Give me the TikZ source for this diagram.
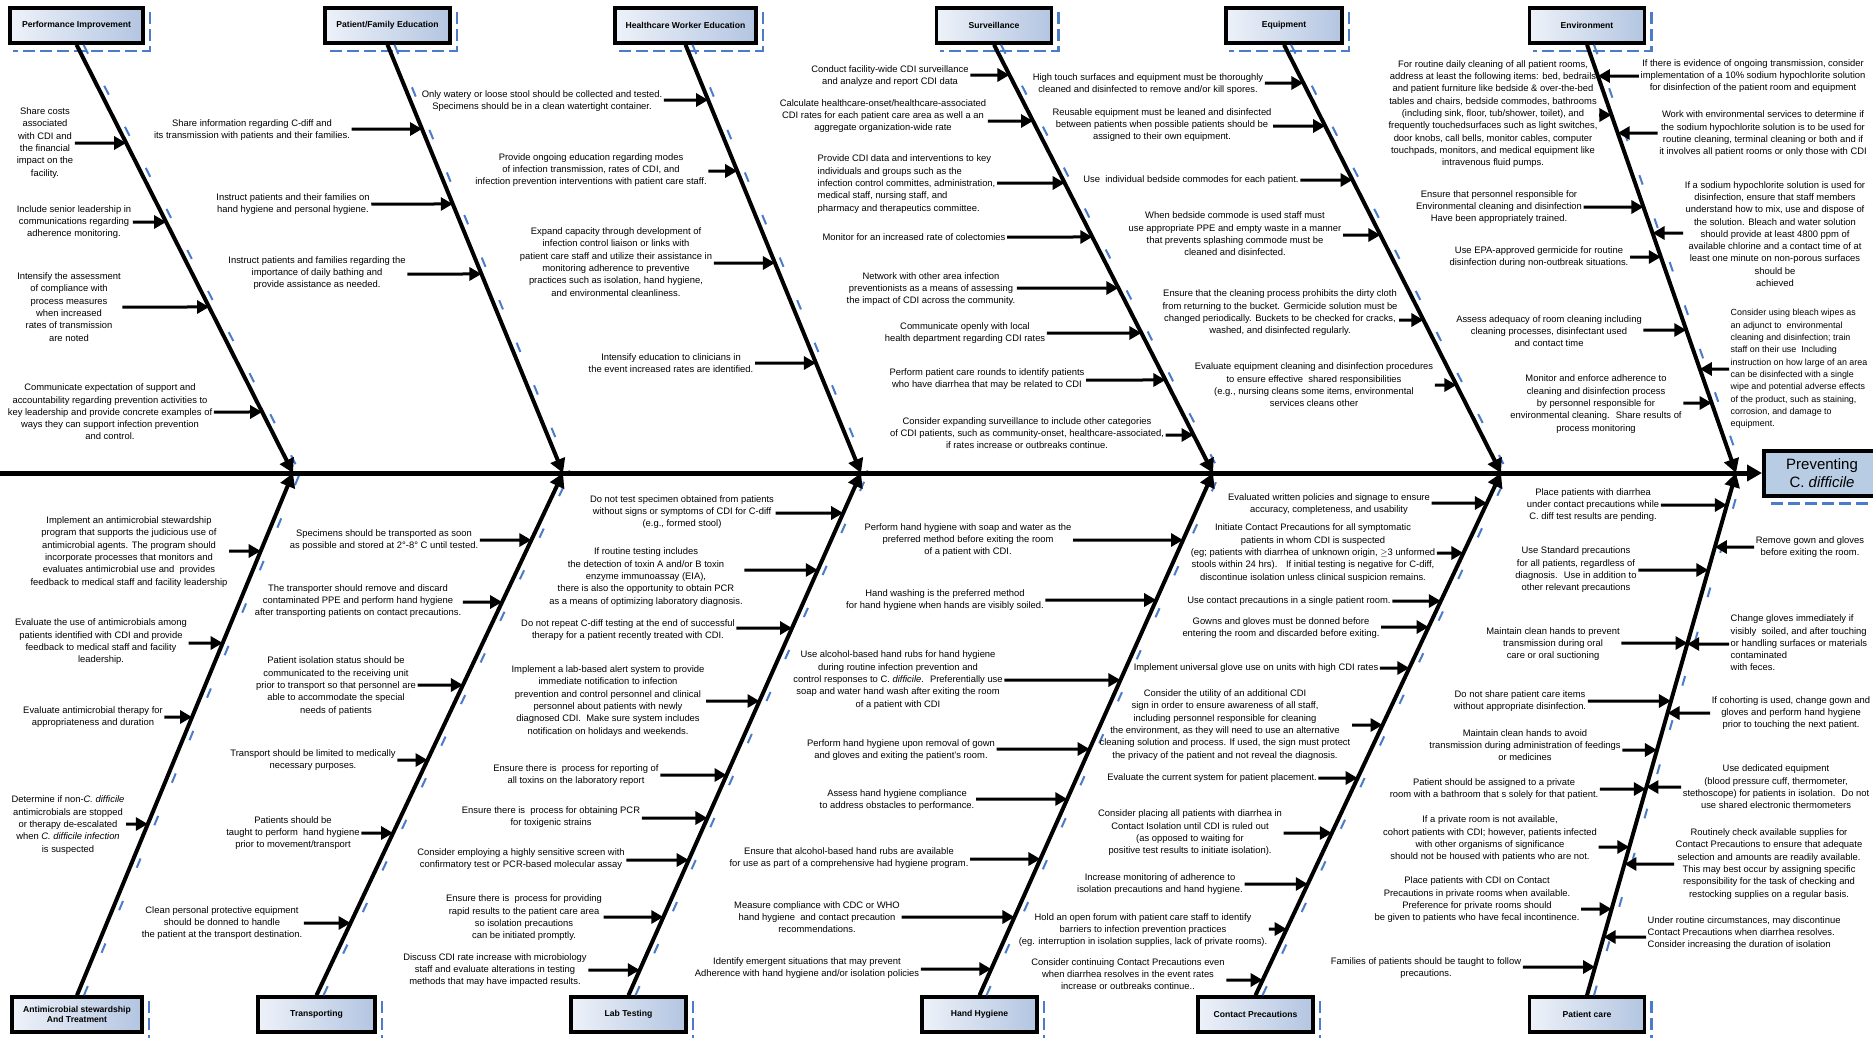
\documentclass[tikz,border=0pt]{standalone}
\usepackage{fontspec}
\setmainfont{Liberation Sans}
\usetikzlibrary{arrows.meta}
\usetikzlibrary{intersections}

\definecolor{boxlight}{HTML}{EEF2F9}
\definecolor{boxdark}{HTML}{B3C5E1}
\definecolor{headblue}{HTML}{B8CCE4}
\definecolor{shadeblue}{HTML}{4A7CCB}

\tikzset{
  txt/.style={font=\fontsize{9.4}{12.3}\selectfont, align=center, inner sep=1.5pt},
  flushtxt/.style={txt, align=left, anchor=west},
  cause/.style={line width=3pt, -{Triangle[length=12pt, width=13pt]}},
  bone/.style={line width=4pt, -{Triangle[length=14pt, width=15pt]}},
  catbox/.style={draw, line width=3.5pt, left color=boxlight, right color=boxdark,
    minimum height=35pt, inner sep=1pt, align=center,
    font=\bfseries\fontsize{8.6}{10}\selectfont},
  boxshadow/.style={shadeblue, line width=2.5pt, dash pattern=on 12pt off 5pt},
  boneshade/.style={shadeblue, line width=2pt, dash pattern=on 10pt off 36pt},
}

\begin{document}
\begin{tikzpicture}[x=1pt, y=-1pt]
\useasboundingbox (0,0) rectangle (1873,1037);
\clip (0,0) rectangle (1873,1037);

% head and spine
\node[draw, line width=4pt, fill=headblue, anchor=west, minimum width=116pt, minimum height=45pt,
  align=center, inner sep=1pt, font=\fontsize{15}{18}\selectfont] (goal) at (1762,473)
  {Preventing\\C. \textit{difficile}};
\coordinate (tail) at (0,473);

\coordinate (j1) at (293,473);
\coordinate (j2) at (563,473);
\coordinate (j3) at (861,473);
\coordinate (j4) at (1213,473);
\coordinate (j5) at (1501,473);
\coordinate (j6) at (1736,473);

% categories
\node[catbox, minimum width=133pt] (pi) at (76.5,25.5) {Performance Improvement};
\node[catbox, minimum width=125pt] (pfe) at (387.5,25.5) {Patient/Family Education};
\node[catbox, minimum width=141pt] (hwe) at (685.5,25.5) {Healthcare Worker Education};
\node[catbox, minimum width=115pt] (sv) at (994,25.5) {Surveillance};
\node[catbox, minimum width=116pt] (eq) at (1284,25.5) {Equipment};
\node[catbox, minimum width=115pt] (en) at (1587,25.5) {Environment};
\node[catbox, minimum width=130pt] (am) at (77,1014.5) {Antimicrobial stewardship\\And Treatment};
\node[catbox, minimum width=117pt] (tr) at (316.5,1014.5) {Transporting};
\node[catbox, minimum width=115pt] (lt) at (628.5,1014.5) {Lab Testing};
\node[catbox, minimum width=115pt] (hh) at (979.5,1014.5) {Hand Hygiene};
\node[catbox, minimum width=115pt] (cp) at (1255.5,1014.5) {Contact  Precautions};
\node[catbox, minimum width=115pt] (pc) at (1587,1014.5) {Patient care};

\foreach \b in {pi,pfe,hwe,sv,eq,en,am,tr,lt,hh,cp,pc,goal}
  \draw[boxshadow] ([shift={(5,6)}]\b.north east) -- ([shift={(5,6)}]\b.south east)
    -- ([shift={(5,6)}]\b.south west);

% bones
\foreach \b/\j in {pi/j1,pfe/j2,hwe/j3,sv/j4,eq/j5,en/j6}
  \draw[boneshade] ([xshift=7pt]\b.south) -- ([xshift=7pt]\j);
\foreach \b/\j in {am/j1,tr/j2,lt/j3,hh/j4,cp/j5,pc/j6}
  \draw[boneshade] ([xshift=7pt]\b.north) -- ([xshift=7pt]\j);

\draw[line width=5pt, -{Triangle[length=15pt, width=16pt]}] (tail) -- (goal.west);

\draw[bone, name path=pibone] (pi.south) -- (j1);
\draw[bone, name path=pfebone] (pfe.south) -- (j2);
\draw[bone, name path=hwebone] (hwe.south) -- (j3);
\draw[bone, name path=svbone] (sv.south) -- (j4);
\draw[bone, name path=eqbone] (eq.south) -- (j5);
\draw[bone, name path=enbone] (en.south) -- (j6);
\draw[bone, name path=ambone] (am.north) -- (j1);
\draw[bone, name path=trbone] (tr.north) -- (j2);
\draw[bone, name path=ltbone] (lt.north) -- (j3);
\draw[bone, name path=hhbone] (hh.north) -- (j4);
\draw[bone, name path=cpbone] (cp.north) -- (j5);
\draw[bone, name path=pcbone] (pc.north) -- (j6);

% Performance Improvement
\foreach \x/\y/\a/\t [count=\i] in {
  45/143/143/{Share costs\\associated\\with CDI and\\the financial\\impact on the\\facility.},
  74/222/222/{Include senior leadership in\\communications regarding\\adherence monitoring.},
  69/307/307/{Intensify the assessment\\of compliance with\\process measures\\when increased\\rates of transmission\\are noted},
  110/412/412/{Communicate expectation of support and\\accountability regarding prevention activities to\\key leadership and provide concrete examples of\\ways they can support infection prevention\\and control.}}{
  \node[txt] (pi\i) at (\x,\y) {\t};
  \path[name path=ray] (0,\a) -- (1873,\a);
  \draw[cause, name intersections={of=pibone and ray}] (pi\i.east |- 0,\a) -- (intersection-1);
}

% Patient/Family Education
\foreach \x/\y/\a/\t [count=\i] in {
  252/130/129/{Share information regarding C-diff and\\its transmission with patients and their families.},
  293/204/204/{Instruct patients and their families on\\hand hygiene and personal hygiene.},
  317/273/274/{Instruct patients and families regarding the\\importance of daily bathing and\\provide assistance as needed.}}{
  \node[txt] (pfe\i) at (\x,\y) {\t};
  \path[name path=ray] (0,\a) -- (1873,\a);
  \draw[cause, name intersections={of=pfebone and ray}] (pfe\i.east |- 0,\a) -- (intersection-1);
}

% Healthcare Worker Education
\foreach \x/\y/\a/\t [count=\i] in {
  542/101/100/{Only watery or loose stool should be collected and tested.\\Specimens should be in a clean watertight container.},
  591/170/171/{Provide ongoing education regarding modes\\of infection transmission, rates of CDI, and\\infection prevention interventions with patient care staff.},
  616/262/263/{Expand capacity through development of\\infection control liaison or links with\\patient care staff and utilize their assistance in\\monitoring adherence to preventive\\practices such as isolation, hand hygiene,\\and environmental cleanliness.},
  671/363/363/{Intensify education to clinicians in\\the event increased rates are identified.}}{
  \node[txt] (hwe\i) at (\x,\y) {\t};
  \path[name path=ray] (0,\a) -- (1873,\a);
  \draw[cause, name intersections={of=hwebone and ray}] (hwe\i.east |- 0,\a) -- (intersection-1);
}

% Surveillance
\node[flushtxt] (sv0) at (816,184) {Provide CDI data and interventions to key\\individuals and groups such as the\\infection control committes, administration,\\medical staff, nursing staff, and\\pharmacy and therapeutics committee.};
\path[name path=ray] (0,183) -- (1873,183);
\draw[cause, name intersections={of=svbone and ray}] (sv0.east |- 0,183) -- (intersection-1);
\foreach \x/\y/\a/\t [count=\i] in {
  890/76/75/{Conduct facility-wide CDI surveillance\\and analyze and report CDI data},
  883/116/121/{Calculate healthcare-onset/healthcare-associated\\CDI rates for each patient care area as well a an\\aggregate organization-wide rate},
  914/237/237/{Monitor for an increased rate of colectomies},
  931/289/288/{Network with other area infection\\preventionists as a means of assessing\\the impact of CDI across the community.},
  965/333/333/{Communicate openly with local\\health department regarding CDI rates},
  987/379/380/{Perform patient care rounds to identify patients\\who have diarrhea that may be related to CDI},
  1027/433/435/{Consider expanding surveillance to include other categories\\of CDI patients, such as community-onset, healthcare-associated,\\if rates increase or outbreaks continue.}}{
  \node[txt] (sv\i) at (\x,\y) {\t};
  \path[name path=ray] (0,\a) -- (1873,\a);
  \draw[cause, name intersections={of=svbone and ray}] (sv\i.east |- 0,\a) -- (intersection-1);
}

% Equipment
\foreach \x/\y/\a/\t [count=\i] in {
  1148/84/83/{High touch surfaces and equipment must be thoroughly\\cleaned and disinfected to remove and/or kill spores.},
  1162/125/126/{Reusable equipment must be leaned and disinfected\\between patients when possible patients should be\\assigned to their own equipment.},
  1191/180/180/{Use \ individual bedside commodes for each patient.},
  1235/234/235/{When bedside commode is used staff must\\use appropriate PPE and empty waste in a manner\\that prevents splashing commode must be\\cleaned and disinfected.},
  1280/313/320/{Ensure that the cleaning process prohibits the dirty cloth\\from returning to the bucket. Germicide solution must be\\changed periodically. Buckets to be checked for cracks,\\washed, and disinfected regularly.},
  1314/385/385/{Evaluate equipment cleaning and disinfection procedures\\to ensure effective \ shared responsibilities\\(e.g., nursing cleans some items, environmental\\services cleans other}}{
  \node[txt] (eq\i) at (\x,\y) {\t};
  \path[name path=ray] (0,\a) -- (1873,\a);
  \draw[cause, name intersections={of=eqbone and ray}] (eq\i.east |- 0,\a) -- (intersection-1);
}

% Environment
\foreach \x/\y/\a/\t [count=\i] in {
  1493/114/115/{For routine daily cleaning of all patient rooms,\\address at least the following items: bed, bedrails\\and patient furniture like bedside \& over-the-bed\\tables and chairs, bedside commodes, bathrooms\\(including sink, floor, tub/shower, toilet), and\\frequently touchedsurfaces such as light switches,\\door knobs, call bells, monitor cables, computer\\touchpads, monitors, and medical equipment like\\intravenous fluid pumps.},
  1499/207/207/{Ensure that personnel responsible for\\Environmental cleaning and disinfection\\Have been appropriately trained.},
  1539/257/257/{Use EPA-approved germicide for routine\\disinfection during non-outbreak situations.},
  1549/331/330/{Assess adequacy of room cleaning including\\cleaning processes, disinfectant used\\and contact time},
  1596/404/403/{Monitor and enforce adherence to\\cleaning and disinfection process\\by personnel responsible for\\environmental cleaning. \ Share results of\\process monitoring}}{
  \node[txt] (en\i) at (\x,\y) {\t};
  \path[name path=ray] (0,\a) -- (1873,\a);
  \draw[cause, name intersections={of=enbone and ray}] (en\i.east |- 0,\a) -- (intersection-1);
}
\foreach \x/\y/\a/\t [count=\i] in {
  1753/76/76/{If there is evidence of ongoing transmission, consider\\implementation of a 10\% sodium hypochlorite solution\\for disinfection of the patient room and equipment},
  1763/134/133/{Work with environmental services to determine if\\the sodium hypochlorite solution is to be used for\\routine cleaning, terminal cleaning or both and if\\it involves all patient rooms or only those with CDI},
  1775/234/233/{If a sodium hypochlorite solution is used for\\disinfection, ensure that staff members\\understand how to mix, use and dispose of\\the solution. Bleach and water solution\\should provide at least 4800 ppm of\\available chlorine and a contact time of at\\least one minute on non-porous surfaces\\should be\\achieved}}{
  \node[txt] (enr\i) at (\x,\y) {\t};
  \path[name path=ray] (0,\a) -- (1873,\a);
  \draw[cause, name intersections={of=enbone and ray}] (enr\i.west |- 0,\a) -- (intersection-1);
}
\node[flushtxt, font=\fontsize{8.9}{12.3}\selectfont] (enr4) at (1729,369) {Consider using bleach wipes as\\an adjunct to \ environmental\\cleaning and disinfection; train\\staff on their use \ Including\\instruction on how large of an area\\can be disinfected with a single\\wipe and potential adverse effects\\of the product, such as staining,\\corrosion, and damage to\\equipment.};
\path[name path=ray] (0,369) -- (1873,369);
\draw[cause, name intersections={of=enbone and ray}] (enr4.west |- 0,369) -- (intersection-1);

% Antimicrobial stewardship
\foreach \x/\y/\a/\t [count=\i] in {
  129/552/551/{Implement an antimicrobial stewardship\\program that supports the judicious use of\\antimicrobial agents. The program should\\incorporate processes that monitors and\\evaluates antimicrobial use and \ provides\\feedback to medical staff and facility leadership},
  101/642/643/{Evaluate the use of antimicrobials among\\patients identified with CDI and provide\\feedback to medical staff and facility\\leadership.},
  93/717/717/{Evaluate antimicrobial therapy for\\appropriateness and duration},
  68/825/824/{Determine if non-\textit{C. difficile}\\antimicrobials are stopped\\or therapy de-escalated\\when \textit{C. difficile infection}\\is suspected}}{
  \node[txt] (am\i) at (\x,\y) {\t};
  \path[name path=ray] (0,\a) -- (1873,\a);
  \draw[cause, name intersections={of=ambone and ray}] (am\i.east |- 0,\a) -- (intersection-1);
}

% Transporting
\foreach \x/\y/\a/\t [count=\i] in {
  384/540/540/{Specimens should be transported as soon\\as possible and stored at 2°-8° C until tested.},
  358/601/602/{The transporter should remove and discard\\contaminated PPE and perform hand hygiene\\after transporting patients on contact precautions.},
  336/686/685/{Patient isolation status should be\\communicated to the receiving unit\\prior to transport so that personnel are\\able to accommodate the special\\needs of patients},
  313/760/760/{Transport should be limited to medically\\necessary purposes.},
  293/833/833/{Patients should be\\taught to perform \ hand hygiene\\prior to movement/transport},
  222/923/923/{Clean personal protective equipment\\should be donned to handle\\the patient at the transport destination.}}{
  \node[txt] (tr\i) at (\x,\y) {\t};
  \path[name path=ray] (0,\a) -- (1873,\a);
  \draw[cause, name intersections={of=trbone and ray}] (tr\i.east |- 0,\a) -- (intersection-1);
}

% Lab Testing
\foreach \x/\y/\a/\t [count=\i] in {
  682/512/513/{Do not test specimen obtained from patients\\without signs or symptoms of CDI for C-diff\\(e.g., formed stool)},
  646/577/570/{If routine testing includes\\the detection of toxin A and/or B toxin\\enzyme immunoassay (EIA),\\there is also the opportunity to obtain PCR\\as a means of optimizing laboratory diagnosis.},
  628/630/628/{Do not repeat C-diff testing at the end of successful\\therapy for a patient recently treated with CDI.},
  608/701/701/{Implement a lab-based alert system to provide\\immediate notification to infection\\prevention and control personnel and clinical\\personnel about patients with newly\\diagnosed CDI. \ Make sure system includes\\notification on holidays and weekends.},
  576/775/775/{Ensure there is \ process for reporting of\\all toxins on the laboratory report},
  551/817/818/{Ensure there is \ process for obtaining PCR\\for toxigenic strains},
  521/859/860/{Consider employing a highly sensitive screen with\\confirmatory test or PCR-based molecular assay},
  524/918/917/{Ensure there is \ process for providing\\rapid results to the patient care area\\so isolation precautions\\can be initiated promptly.},
  495/970/970/{Discuss CDI rate increase with microbiology\\staff and evaluate alterations in testing\\methods that may have impacted results.}}{
  \node[txt] (lt\i) at (\x,\y) {\t};
  \path[name path=ray] (0,\a) -- (1873,\a);
  \draw[cause, name intersections={of=ltbone and ray}] (lt\i.east |- 0,\a) -- (intersection-1);
}

% Hand Hygiene
\foreach \x/\y/\a/\t [count=\i] in {
  968/540/540/{Perform hand hygiene with soap and water as the\\preferred method before exiting the room\\of a patient with CDI.},
  945/600/600/{Hand washing is the preferred method\\for hand hygiene when hands are visibly soiled.},
  898/680/680/{Use alcohol-based hand rubs for hand hygiene\\during routine infection prevention and\\control responses to C. \textit{difficile}. \ Preferentially use\\soap and water hand wash after exiting the room\\of a patient with CDI},
  901/750/749/{Perform hand hygiene upon removal of gown\\and gloves and exiting the patient's room.},
  897/800/799/{Assess hand hygiene compliance\\to address obstacles to performance.},
  849/858/859/{Ensure that alcohol-based hand rubs are available\\for use as part of a comprehensive had hygiene program.},
  817/917/917/{Measure compliance with CDC or WHO\\hand hygiene \ and contact precaution\\recommendations.},
  807/968/969/{Identify emergent situations that may prevent\\Adherence with hand hygiene and/or isolation policies}}{
  \node[txt] (hh\i) at (\x,\y) {\t};
  \path[name path=ray] (0,\a) -- (1873,\a);
  \draw[cause, name intersections={of=hhbone and ray}] (hh\i.east |- 0,\a) -- (intersection-1);
}

% Contact Precautions
\foreach \x/\y/\a/\t [count=\i] in {
  1329/504/503/{Evaluated written policies and signage to ensure\\accuracy, completeness, and usability},
  1313/553/553/{Initiate Contact Precautions for all symptomatic\\patients in whom CDI is suspected\\(eg; patients with diarrhea of unknown origin, $\geq$3 unformed\\stools within 24 hrs). \ \ If initial testing is negative for C-diff,\\discontinue isolation unless clinical suspicion remains.},
  1289/601/601/{Use contact precautions in a single patient room.},
  1281/628/627/{Gowns and gloves must be donned before\\entering the room and discarded before exiting.},
  1256/668/668/{Implement universal glove use on units with high CDI rates},
  1225/725/725/{Consider the utility of an additional CDI\\sign in order to ensure awareness of all staff,\\including personnel responsible for cleaning\\the environment, as they will need to use an alternative\\cleaning solution and process. If used, the sign must protect\\the privacy of the patient and not reveal the diagnosis.},
  1212/778/778/{Evaluate the current system for patient placement.},
  1190/833/833/{Consider placing all patients with diarrhea in\\Contact Isolation until CDI is ruled out\\(as opposed to waiting for\\positive test results to initiate isolation).},
  1160/884/884/{Increase monitoring of adherence to\\isolation precautions and hand hygiene.},
  1143/930/929/{Hold an open forum with patient care staff to identify\\barriers to infection prevention practices\\(eg. interruption in isolation supplies, lack of private rooms).},
  1128/974/980/{Consider continuing Contact Precautions even\\when diarrhea resolves in the event rates\\increase or outbreaks continue..}}{
  \node[txt] (cp\i) at (\x,\y) {\t};
  \path[name path=ray] (0,\a) -- (1873,\a);
  \draw[cause, name intersections={of=cpbone and ray}] (cp\i.east |- 0,\a) -- (intersection-1);
}

% Patient care
\foreach \x/\y/\a/\t [count=\i] in {
  1593/505/505/{Place patients with diarrhea\\under contact precautions while\\C. diff test results are pending.},
  1576/570/570/{Use Standard precautions\\for all patients, regardless of\\diagnosis. \ Use in addition to\\other relevant precautions},
  1553/644/643/{Maintain clean hands to prevent\\transmission during oral\\care or oral suctioning},
  1520/701/701/{Do not share patient care items\\without appropriate disinfection.},
  1525/745/750/{Maintain clean hands to avoid\\transmission during administration of feedings\\or medicines},
  1494/789/789/{Patient should be assigned to a private\\room with a bathroom that s solely for that patient.},
  1490/839/847/{If a private room is not available,\\cohort patients with CDI; however, patients infected\\with other organisms of significance\\should not be housed with patients who are not.},
  1477/900/909/{Place patients with CDI on Contact\\Precautions in private rooms when available.\\Preference for private rooms should\\be given to patients who have fecal incontinence.},
  1426/968/967/{Families of patients should be taught to follow\\precautions.}}{
  \node[txt] (pc\i) at (\x,\y) {\t};
  \path[name path=ray] (0,\a) -- (1873,\a);
  \draw[cause, name intersections={of=pcbone and ray}] (pc\i.east |- 0,\a) -- (intersection-1);
}
\foreach \x/\y/\a/\t [count=\i] in {
  1810/547/547/{Remove gown and gloves\\before exiting the room.},
  1791/713/713/{If cohorting is used, change gown and\\gloves and perform hand hygiene\\prior to touching the next patient.},
  1776/787/787/{Use dedicated equipment\\(blood pressure cuff, thermometer,\\stethoscope) for patients in isolation. \ Do not\\use shared electronic thermometers},
  1769/864/864/{Routinely check available supplies for\\Contact Precautions to ensure that adequate\\selection and amounts are readily available.\\This may best occur by assigning specific\\responsibility for the task of checking and\\restocking supplies on a regular basis.}}{
  \node[txt] (pcr\i) at (\x,\y) {\t};
  \path[name path=ray] (0,\a) -- (1873,\a);
  \draw[cause, name intersections={of=pcbone and ray}] (pcr\i.west |- 0,\a) -- (intersection-1);
}
\node[flushtxt] (pcr5) at (1729,643) {Change gloves immediately if\\visibly \ soiled, and after touching\\or handling surfaces or materials\\contaminated\\with feces.};
\path[name path=ray] (0,644) -- (1873,644);
\draw[cause, name intersections={of=pcbone and ray}] (pcr5.west |- 0,644) -- (intersection-1);
\node[flushtxt] (pcr6) at (1646,933) {Under routine circumstances, may discontinue\\Contact Precautions when diarrhea resolves.\\Consider increasing the duration of isolation};
\path[name path=ray] (0,937) -- (1873,937);
\draw[cause, name intersections={of=pcbone and ray}] (pcr6.west |- 0,937) -- (intersection-1);

\end{tikzpicture}
\end{document}
